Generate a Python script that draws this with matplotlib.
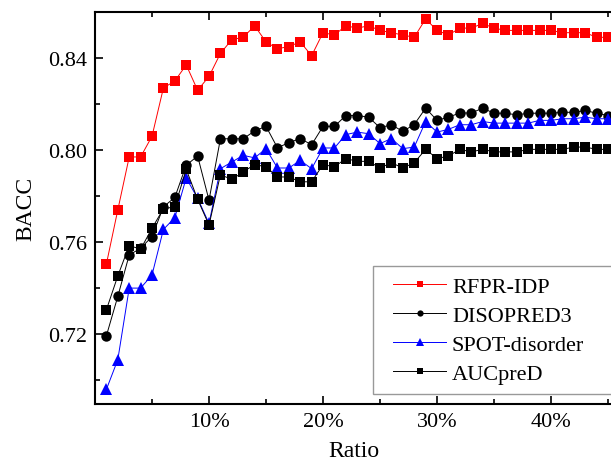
import matplotlib

matplotlib.use("Agg")
import matplotlib.pyplot as plt
from matplotlib.legend_handler import HandlerLine2D
from matplotlib.ticker import MultipleLocator, FuncFormatter

ratio = list(range(1, 46))

rfpr_idp = [0.7505, 0.774, 0.797, 0.797, 0.806, 0.827, 0.830, 0.837, 0.826, 0.832,
            0.842, 0.848, 0.849, 0.854, 0.847, 0.844, 0.845, 0.847, 0.841, 0.851,
            0.850, 0.854, 0.853, 0.854, 0.852, 0.851, 0.850, 0.849, 0.857, 0.852,
            0.850, 0.853, 0.853, 0.855, 0.853, 0.852, 0.852, 0.852, 0.852, 0.852,
            0.851, 0.851, 0.851, 0.849, 0.849]
disopred3 = [0.7193, 0.7364, 0.7544, 0.7573, 0.7624, 0.7753, 0.7794, 0.7934, 0.7974, 0.7782,
             0.8049, 0.8049, 0.8049, 0.8083, 0.8103, 0.8010, 0.8032, 0.8050, 0.8023, 0.8103,
             0.8103, 0.8150, 0.8150, 0.8143, 0.8097, 0.8110, 0.8081, 0.8111, 0.8182, 0.8129,
             0.8143, 0.8161, 0.8161, 0.8182, 0.8160, 0.8160, 0.8153, 0.8160, 0.8160, 0.8160,
             0.8164, 0.8164, 0.8172, 0.8160, 0.8150]
spot_disorder = [0.6960, 0.7089, 0.7400, 0.7400, 0.7457, 0.7655, 0.7706, 0.7879, 0.7790, 0.7681,
                 0.7919, 0.7948, 0.7977, 0.7966, 0.8006, 0.7922, 0.7922, 0.7955, 0.7919, 0.8009,
                 0.8009, 0.8067, 0.8078, 0.8071, 0.8028, 0.8050, 0.8006, 0.8013, 0.8124, 0.8078,
                 0.8090, 0.8110, 0.8110, 0.8124, 0.8117, 0.8117, 0.8117, 0.8117, 0.8129, 0.8129,
                 0.8136, 0.8136, 0.8143, 0.8136, 0.8136]
aucpred = [0.7306, 0.7453, 0.7585, 0.7569, 0.7660, 0.7745, 0.7753, 0.7916, 0.7786, 0.7674,
           0.7893, 0.7872, 0.7905, 0.7937, 0.7927, 0.7883, 0.7883, 0.7862, 0.7862, 0.7937,
           0.7927, 0.7963, 0.7951, 0.7951, 0.7922, 0.7945, 0.7922, 0.7945, 0.8003, 0.7963,
           0.7974, 0.8003, 0.7992, 0.8003, 0.7992, 0.7992, 0.7992, 0.8003, 0.8003, 0.8003,
           0.8003, 0.8013, 0.8013, 0.8003, 0.8003]

plt.rcParams["font.family"] = "Liberation Serif"
plt.rcParams["font.size"] = 16

fig = plt.figure(figsize=(6.11, 4.64), dpi=100)
ax = fig.add_axes([0.1555, 0.127, 0.849, 0.8455])

series = [
    ("RFPR-IDP", rfpr_idp, "#ff0000", "s"),
    ("DISOPRED3", disopred3, "black", "o"),
    ("SPOT-disorder", spot_disorder, "#0000ff", "^"),
    ("AUCpreD", aucpred, "black", "s"),
]
lines = []
for label, vals, color, marker in series:
    ln, = ax.plot(ratio, vals, color=color, marker=marker,
                  markersize=7.5 if marker != "^" else 8.5,
                  linewidth=0.7, markeredgewidth=0, label=label)
    lines.append(ln)

ax.set_xlim(0, 45.5)
ax.set_ylim(0.6896, 0.8601)
ax.xaxis.set_major_locator(MultipleLocator(10))
ax.xaxis.set_minor_locator(MultipleLocator(5))
ax.yaxis.set_major_locator(MultipleLocator(0.04))
ax.yaxis.set_minor_locator(MultipleLocator(0.02))
ax.xaxis.set_major_formatter(FuncFormatter(lambda v, p: "" if v == 0 else f"{v:.0f}%"))
ax.yaxis.set_major_formatter(FuncFormatter(lambda v, p: f"{v:.2f}"))
ax.tick_params(which="both", direction="in", top=True, right=False, width=1.2)
ax.tick_params(which="major", length=6, pad=6)
ax.tick_params(which="minor", length=3.5)
for s in ax.spines.values():
    s.set_linewidth(1.5)

ax.set_xlabel("Ratio", fontsize=17, labelpad=6)
ax.set_ylabel("BACC", fontsize=17, labelpad=8)

# legend box runs past the right edge of the picture, like the reference crop
leg = ax.legend(loc="upper left", bbox_to_anchor=(0.536, 0.0357, 0.49, 0.3163), mode="expand",
                borderaxespad=0, frameon=True, fancybox=False, edgecolor="#808080",
                markerscale=0.6, handlelength=2.85, handletextpad=0.25, labelspacing=0.38,
                fontsize=16, borderpad=0.45,
                handler_map={ln: HandlerLine2D(xpad=0.45) for ln in lines})
leg.get_frame().set_linewidth(1.0)

fig.savefig("out.png", dpi=100)
